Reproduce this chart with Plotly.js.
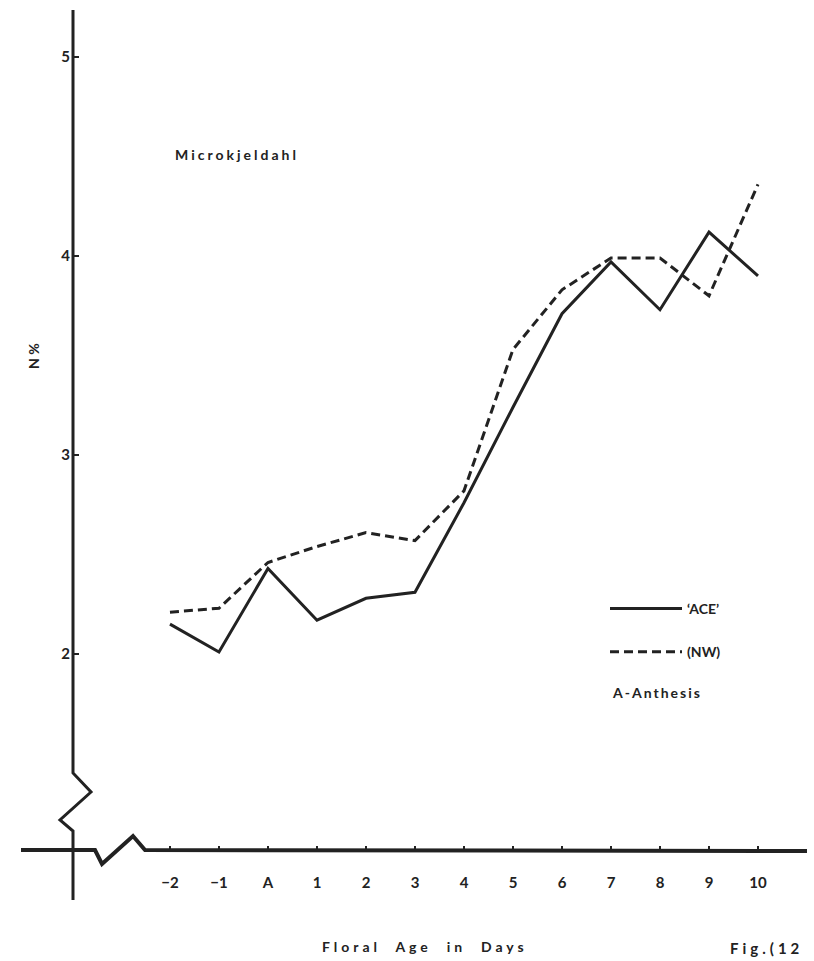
<!DOCTYPE html>
<html>
<head>
<meta charset="utf-8">
<script src="https://cdn.plot.ly/plotly-3.0.1.min.js"></script>
<style>
  html, body { margin: 0; padding: 0; background: #ffffff; }
  #chart { width: 814px; height: 961px; }
</style>
</head>
<body>
<div id="chart"></div>
<script>
// ---- data ----
const dayLabels = ['\u22122', '\u22121', 'A', '1', '2', '3', '4', '5', '6', '7', '8', '9', '10'];
const dayPos = [-2, -1, 0, 1, 2, 3, 4, 5, 6, 7, 8, 9, 10];
const aceN = [2.15, 2.01, 2.43, 2.17, 2.28, 2.31, 2.76, 3.24, 3.71, 3.97, 3.73, 4.12, 3.90];
const nwN  = [2.21, 2.23, 2.46, 2.54, 2.61, 2.57, 2.82, 3.53, 3.83, 3.99, 3.99, 3.80, 4.36];
const yTicks = [2, 3, 4, 5];
const yTickLabels = ['2', '3', '4', '5'];

// ---- geometry helpers (pixel -> data) for decorative broken axes ----
const W = 814, H = 961;
const M = { l: 21, r: 7, t: 10, b: 61 };
const xRange = [-5.04, 11.0];
const yRange = [0.764, 5.236];
const plotW = W - M.l - M.r, plotH = H - M.t - M.b;
const X = p => xRange[0] + (p - M.l) / plotW * (xRange[1] - xRange[0]);
const Y = q => yRange[1] - (q - M.t) / plotH * (yRange[1] - yRange[0]);
const PX = p => (p - M.l) / plotW;
const PY = q => (H - M.b - q) / plotH;
const pathOf = pts => 'M' + pts.map(([p, q]) => X(p) + ',' + Y(q)).join(' L');

const ink = '#222222';
const font = 'Lato, "DejaVu Sans", sans-serif';

const traces = [
  {
    x: dayPos, y: aceN, type: 'scatter', mode: 'lines', name: '\u2018ACE\u2019',
    legendgroup: 'ace',
    line: { color: ink, width: 3 }
  },
  {
    x: dayPos, y: nwN, type: 'scatter', mode: 'lines', name: '(NW)',
    legendgroup: 'nw',
    line: { color: ink, width: 3, dash: '9px,5px' }
  }
];

const layout = {
  width: W, height: H,
  margin: M,
  paper_bgcolor: '#ffffff',
  plot_bgcolor: '#ffffff',
  font: { family: font, color: ink, size: 14, weight: 'bold' },
  showlegend: true,
  legend: {
    x: PX(605), y: PY(593), xanchor: 'left', yanchor: 'top',
    bgcolor: 'rgba(0,0,0,0)', borderwidth: 0,
    itemwidth: 72, traceorder: 'grouped', tracegroupgap: 22,
    font: { family: font, size: 14, weight: 'bold', color: ink }
  },
  xaxis: {
    range: xRange, tickmode: 'array', tickvals: dayPos, ticktext: dayLabels,
    showgrid: false, zeroline: false, showline: false,
    ticks: 'inside', ticklen: 4, tickwidth: 1.5, tickcolor: ink,
    anchor: 'free', position: PY(850),
    ticklabelstandoff: 22,
    tickfont: { family: font, size: 15, weight: 'bold', color: ink },
    fixedrange: true
  },
  yaxis: {
    range: yRange, tickmode: 'array', tickvals: yTicks, ticktext: yTickLabels,
    showgrid: false, zeroline: false, showline: false,
    ticks: 'inside', ticklen: 5, tickwidth: 2, tickcolor: ink,
    anchor: 'free', position: PX(73),
    ticklabelstandoff: 3,
    tickfont: { family: font, size: 15, weight: 'bold', color: ink },
    fixedrange: true
  },
  shapes: [
    { type: 'path', xref: 'x', yref: 'y', layer: 'below',
      path: pathOf([[73, 8], [73, 773], [91, 792], [60, 820], [73, 831], [73, 900]]),
      line: { color: ink, width: 3 } },
    { type: 'path', xref: 'x', yref: 'y', layer: 'below',
      path: pathOf([[21, 850], [95, 850], [102, 864], [133, 836], [145, 850], [807, 851]]),
      line: { color: ink, width: 4 } }
  ],
  annotations: [
    { text: '<span style="letter-spacing:3px">Microkjeldahl</span>', xref: 'paper', yref: 'paper',
      x: PX(173), y: PY(155), xanchor: 'left', yanchor: 'middle', showarrow: false,
      font: { family: font, size: 14, weight: 'bold', color: ink } },
    { text: 'N %', xref: 'paper', yref: 'paper', textangle: -90,
      x: PX(33), y: PY(356), xanchor: 'center', yanchor: 'middle', showarrow: false,
      font: { family: font, size: 14, weight: 'bold', color: ink } },
    { text: '<span style="letter-spacing:2px">A-Anthesis</span>', xref: 'paper', yref: 'paper',
      x: PX(610), y: PY(692), xanchor: 'left', yanchor: 'middle', showarrow: false,
      font: { family: font, size: 14, weight: 'bold', color: ink } },
    { text: '<span style="letter-spacing:4px">Floral  Age  in  Days</span>', xref: 'paper', yref: 'paper',
      x: PX(425), y: PY(946), xanchor: 'center', yanchor: 'middle', showarrow: false,
      font: { family: font, size: 14, weight: 'bold', color: ink } },
    { text: '<span style="letter-spacing:4px">Fig.(12</span>', xref: 'paper', yref: 'paper',
      x: PX(728), y: PY(948), xanchor: 'left', yanchor: 'middle', showarrow: false,
      font: { family: font, size: 15, weight: 'bold', color: ink } }
  ]
};

Plotly.newPlot('chart', traces, layout, { staticPlot: true, displayModeBar: false });
</script>
</body>
</html>
